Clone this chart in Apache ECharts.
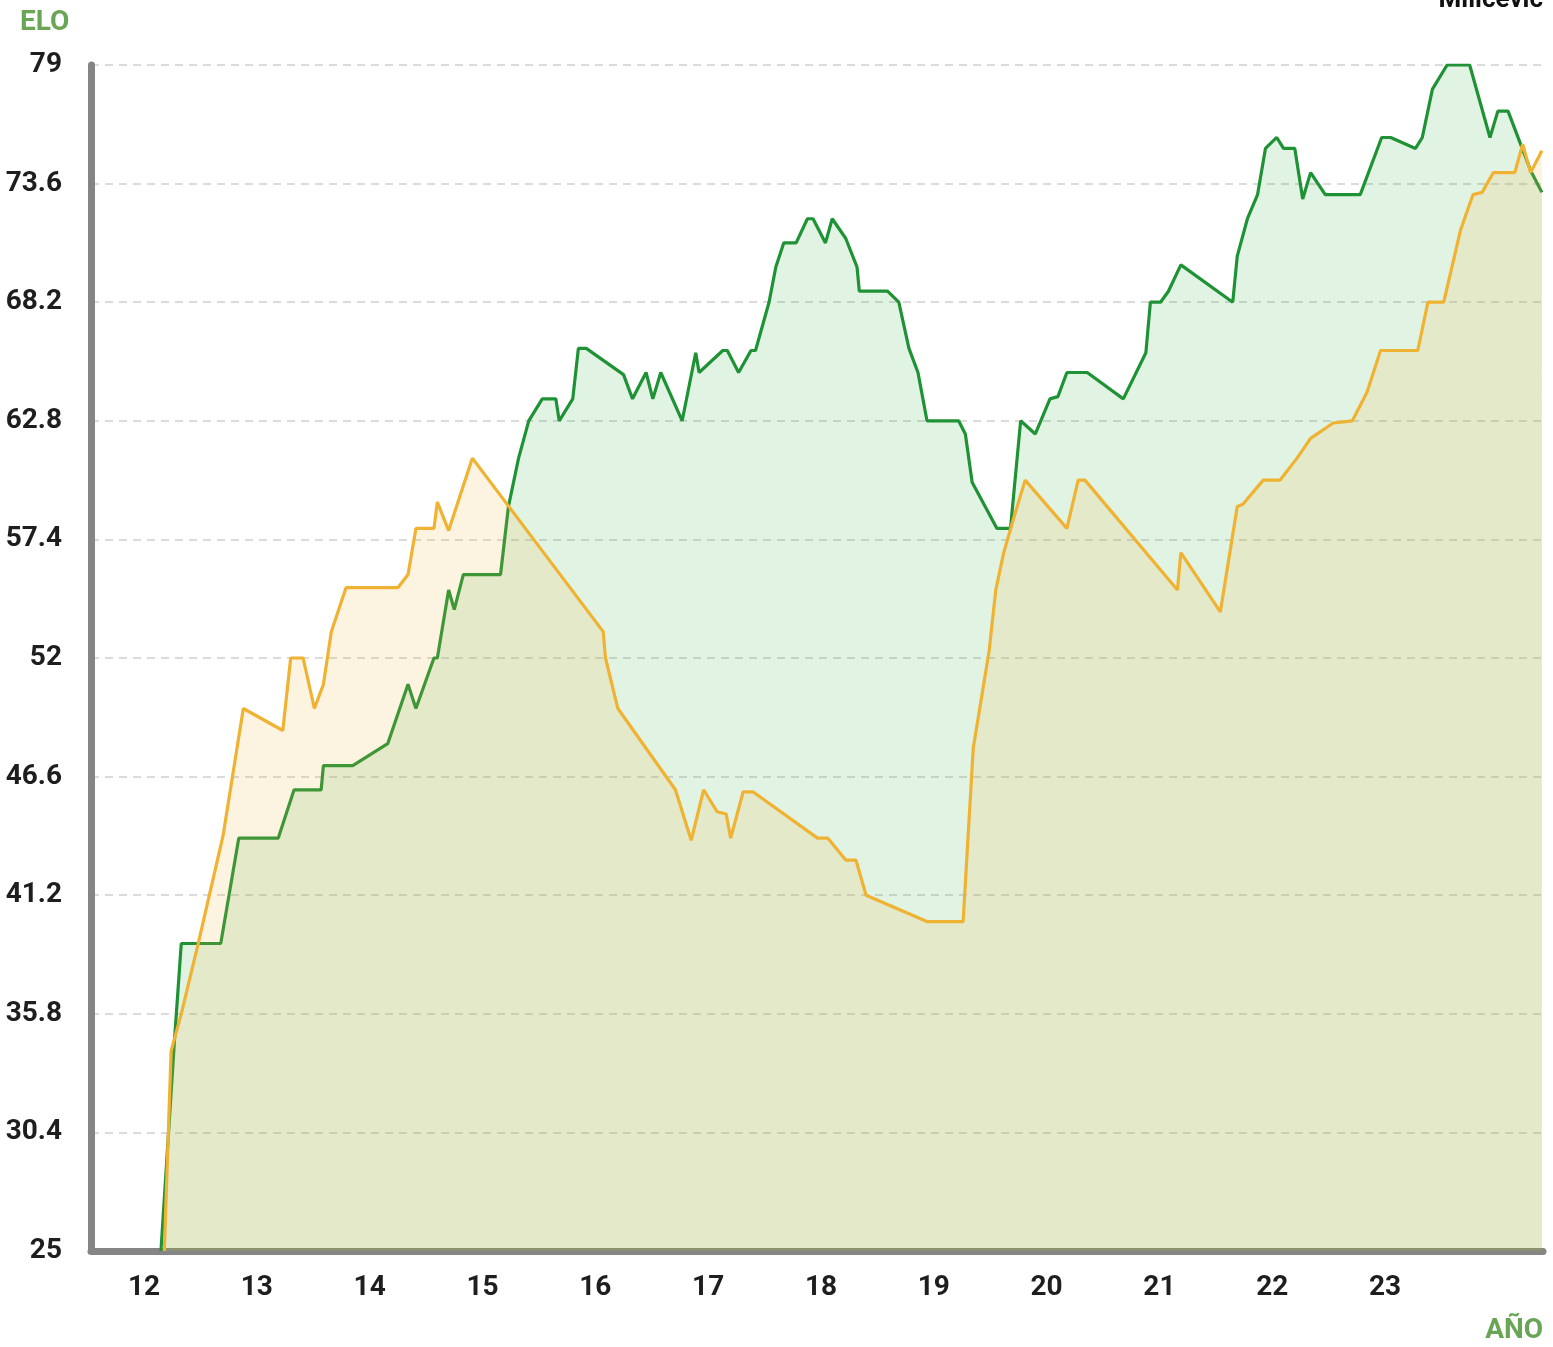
<!DOCTYPE html>
<html>
<head>
<meta charset="utf-8">
<script src="https://cdn.jsdelivr.net/npm/echarts@6/dist/echarts.min.js"></script>
<style>
  html, body { margin: 0; padding: 0; background: #fff; }
  #chart { width: 1553px; height: 1347px; }
</style>
</head>
<body>
<div id="chart"></div>
<script>
// edad (años) y ELO
const greenAge = [12.15, 12.27, 12.33, 12.68, 12.84, 13.19, 13.33, 13.57, 13.59, 13.85, 14.16, 14.34, 14.41, 14.57, 14.60, 14.70, 14.75, 14.83, 15.16, 15.23, 15.32, 15.41, 15.53, 15.65, 15.68, 15.80, 15.85, 15.92, 16.25, 16.33, 16.45, 16.51, 16.58, 16.77, 16.89, 16.92, 17.13, 17.17, 17.27, 17.38, 17.42, 17.54, 17.60, 17.67, 17.78, 17.88, 17.93, 18.04, 18.10, 18.22, 18.32, 18.34, 18.59, 18.69, 18.78, 18.86, 18.94, 19.22, 19.28, 19.34, 19.56, 19.68, 19.77, 19.90, 20.03, 20.10, 20.18, 20.36, 20.68, 20.88, 20.92, 21.01, 21.08, 21.19, 21.65, 21.69, 21.78, 21.87, 21.94, 22.04, 22.10, 22.20, 22.27, 22.34, 22.47, 22.78, 22.97, 23.05, 23.27, 23.33, 23.42, 23.55, 23.75, 23.93, 24.00, 24.09, 24.29, 24.39];
const greenElo = [25, 34.6, 39.0, 39.0, 43.8, 43.8, 46.0, 46.0, 47.1, 47.1, 48.1, 50.8, 49.7, 52.0, 52.0, 55.1, 54.2, 55.8, 55.8, 58.9, 61.1, 62.8, 63.8, 63.8, 62.8, 63.8, 66.1, 66.1, 64.9, 63.8, 65.0, 63.8, 65.0, 62.8, 65.9, 65.0, 66.0, 66.0, 65.0, 66.0, 66.0, 68.2, 69.8, 70.9, 70.9, 72.0, 72.0, 70.9, 72.0, 71.1, 69.8, 68.7, 68.7, 68.2, 66.1, 65.0, 62.8, 62.8, 62.2, 60.0, 57.9, 57.9, 62.8, 62.2, 63.8, 63.9, 65.0, 65.0, 63.8, 65.9, 68.2, 68.2, 68.7, 69.9, 68.2, 70.3, 72.0, 73.1, 75.2, 75.7, 75.2, 75.2, 72.9, 74.1, 73.1, 73.1, 75.7, 75.7, 75.2, 75.7, 77.9, 79.0, 79.0, 75.7, 76.9, 76.9, 74.2, 73.2];

const orangeAge = [12.18, 12.24, 12.33, 12.48, 12.70, 12.88, 13.23, 13.30, 13.41, 13.51, 13.59, 13.66, 13.79, 14.25, 14.34, 14.41, 14.57, 14.60, 14.70, 14.91, 16.07, 16.09, 16.20, 16.71, 16.85, 16.96, 17.08, 17.16, 17.20, 17.31, 17.40, 17.97, 18.06, 18.22, 18.31, 18.40, 18.94, 19.26, 19.35, 19.49, 19.55, 19.62, 19.71, 19.81, 20.18, 20.28, 20.34, 21.16, 21.19, 21.54, 21.69, 21.74, 21.92, 22.07, 22.22, 22.34, 22.54, 22.71, 22.84, 22.96, 23.29, 23.38, 23.52, 23.67, 23.78, 23.86, 23.96, 24.15, 24.22, 24.29, 24.39];
const orangeElo = [25, 34.1, 35.8, 39.0, 43.9, 49.7, 48.7, 52.0, 52.0, 49.7, 50.8, 53.2, 55.2, 55.2, 55.8, 57.9, 57.9, 59.1, 57.8, 61.1, 53.2, 52.0, 49.7, 46.0, 43.7, 46.0, 45.0, 44.9, 43.8, 45.9, 45.9, 43.8, 43.8, 42.8, 42.8, 41.2, 40.0, 40.0, 47.9, 52.3, 55.1, 56.8, 58.4, 60.1, 57.9, 60.1, 60.1, 55.1, 56.8, 54.1, 58.9, 59.0, 60.1, 60.1, 61.1, 62.0, 62.7, 62.8, 64.1, 66.0, 66.0, 68.2, 68.2, 71.5, 73.1, 73.2, 74.1, 74.1, 75.4, 74.1, 75.1];

const yearTicks = [12, 13, 14, 15, 16, 17, 18, 19, 20, 21, 22, 23];
const eloTicks = [25, 30.4, 35.8, 41.2, 46.6, 52, 57.4, 62.8, 68.2, 73.6, 79];

const labelFont = { color: '#1e1e1e', fontSize: 28, fontWeight: 'bold', fontFamily: 'Roboto' };
const titleGreen = '#68a656';

const chart = echarts.init(document.getElementById('chart'), null, { renderer: 'canvas' });
chart.setOption({
  animation: false,
  backgroundColor: '#fff',
  grid: { left: 91, right: 10, top: 65, bottom: 96 },
  xAxis: {
    type: 'value',
    min: 11.53,
    max: 24.4,
    axisLine: { show: true, lineStyle: { color: '#858585', width: 7 } },
    axisTick: { show: false, customValues: yearTicks },
    axisLabel: { ...labelFont, margin: 23, customValues: yearTicks },
    splitLine: { show: false }
  },
  yAxis: {
    type: 'value',
    min: 25,
    max: 79,
    axisLine: { show: true, lineStyle: { color: '#858585', width: 7 } },
    axisTick: { show: false, customValues: eloTicks },
    axisLabel: { ...labelFont, margin: 29, customValues: eloTicks },
    splitLine: { show: true, lineStyle: { color: '#cfcfcf', width: 1.5, type: [8, 6] } }
  },
  series: [
    {
      type: 'line',
      name: 'green',
      data: greenAge.map((a, i) => [a, greenElo[i]]),
      showSymbol: false,
      lineStyle: { color: '#1f9236', width: 3.2 },
      areaStyle: { color: 'rgba(55,180,70,0.21)', origin: 'start' },
      z: 2
    },
    {
      type: 'line',
      name: 'orange',
      data: orangeAge.map((a, i) => [a, orangeElo[i]]),
      showSymbol: false,
      lineStyle: { color: '#f0b232', width: 3.2 },
      areaStyle: { color: 'rgba(245,176,60,0.22)', origin: 'start' },
      z: 3
    }
  ],
  graphic: [
    { type: 'text', left: 20, top: 9, style: { text: 'ELO', fill: titleGreen, font: 'bold 28px Roboto' } },
    { type: 'text', right: 10, top: 1317, style: { text: 'AÑO', fill: titleGreen, font: 'bold 28px Roboto' } },
    { type: 'text', right: 10, top: -13, style: { text: 'Milicevic', fill: '#111', font: 'bold 26px Roboto' } }
  ]
});
</script>
</body>
</html>
